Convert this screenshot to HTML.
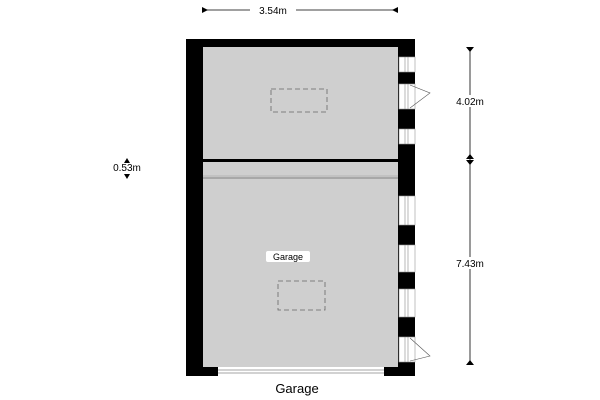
<!DOCTYPE html>
<html><head><style>body{margin:0;background:#fff}svg{display:block}text{font-family:"Liberation Sans",sans-serif}</style></head>
<body>
<svg width="600" height="400" viewBox="0 0 600 400">
<!-- top dimension -->
<line x1="202" y1="10" x2="398" y2="10" stroke="#000" stroke-width="0.8"/>
<polygon points="202,7 202,13 208,10" fill="#000"/><polygon points="398,7 398,13 392,10" fill="#000"/>
<rect x="250" y="4" width="46" height="12" fill="#fff"/>
<text x="273" y="14" font-size="10" text-anchor="middle">3.54m</text>
<!-- outer walls -->
<rect x="186" y="39" width="229" height="337" fill="#000"/>
<rect x="203" y="47" width="195" height="320" fill="#cfcfcf"/>
<!-- partition -->
<rect x="203" y="159" width="195" height="3" fill="#000"/>
<line x1="203" y1="178" x2="398" y2="178" stroke="#666" stroke-width="0.8"/>
<line x1="203" y1="176" x2="398" y2="176" stroke="#999" stroke-width="0.5"/>
<!-- bottom opening -->
<rect x="218" y="367" width="166" height="9" fill="#fff"/>
<line x1="218" y1="370" x2="384" y2="370" stroke="#888" stroke-width="0.8"/>
<line x1="218" y1="373" x2="384" y2="373" stroke="#888" stroke-width="0.8"/>
<!-- right wall openings -->
<g fill="#fff" stroke="#999" stroke-width="0.6">
<rect x="399" y="57" width="16" height="15"/>
<rect x="399" y="84" width="16" height="25"/>
<rect x="399" y="129" width="16" height="15"/>
<rect x="399" y="196" width="16" height="29"/>
<rect x="399" y="245" width="16" height="27"/>
<rect x="399" y="289" width="16" height="28"/>
<rect x="399" y="337" width="16" height="25"/>
</g>
<g stroke="#888" stroke-width="0.6">
<line x1="405" y1="57" x2="405" y2="72"/><line x1="408" y1="57" x2="408" y2="72"/>
<line x1="405" y1="129" x2="405" y2="144"/><line x1="408" y1="129" x2="408" y2="144"/>
<line x1="405" y1="196" x2="405" y2="225"/><line x1="408" y1="196" x2="408" y2="225"/>
<line x1="405" y1="245" x2="405" y2="272"/><line x1="408" y1="245" x2="408" y2="272"/>
<line x1="405" y1="289" x2="405" y2="317"/><line x1="408" y1="289" x2="408" y2="317"/>
<line x1="405" y1="84" x2="405" y2="109"/><line x1="408" y1="84" x2="408" y2="109"/>
<line x1="405" y1="337" x2="405" y2="362"/><line x1="408" y1="337" x2="408" y2="362"/>
</g>
<g fill="none" stroke="#555" stroke-width="0.6">
<polyline points="410,85 430,93 410,108"/>
<polyline points="410,338 430,356 410,361"/>
</g>
<!-- dashed rectangles -->
<rect x="271" y="89" width="56" height="23" fill="none" stroke="#666" stroke-width="0.8" stroke-dasharray="5,3"/>
<rect x="278" y="281" width="47" height="29" fill="none" stroke="#666" stroke-width="0.8" stroke-dasharray="5,3"/>
<!-- room label -->
<rect x="266" y="251" width="44" height="11" fill="#fff" rx="2"/>
<text x="288" y="260" font-size="9" text-anchor="middle">Garage</text>
<text x="297" y="393" font-size="13" text-anchor="middle">Garage</text>
<!-- right dimension -->
<line x1="470" y1="47" x2="470" y2="365" stroke="#000" stroke-width="0.8"/>
<polygon points="466,47 474,47 470,52" fill="#000"/>
<polygon points="466,159 474,159 470,154" fill="#000"/>
<polygon points="466,160 474,160 470,165" fill="#000"/>
<polygon points="466,365 474,365 470,360" fill="#000"/>
<rect x="452" y="95" width="36" height="12" fill="#fff"/>
<text x="470" y="105" font-size="10" text-anchor="middle">4.02m</text>
<rect x="452" y="257" width="36" height="12" fill="#fff"/>
<text x="470" y="267" font-size="10" text-anchor="middle">7.43m</text>
<!-- left small dim -->
<polygon points="124,158 130,158 127,163" fill="#000" transform="rotate(180 127 160.5)"/>
<text x="127" y="171" font-size="10" text-anchor="middle">0.53m</text>
<polygon points="124,174 130,174 127,179" fill="#000"/>
</svg>
</body></html>
